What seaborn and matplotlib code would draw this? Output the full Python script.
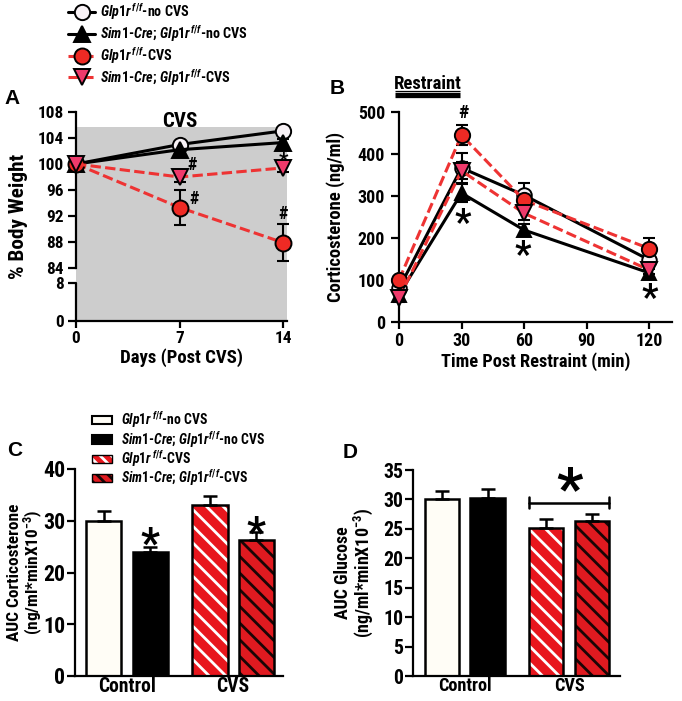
import numpy as np
import pandas as pd
import seaborn as sns
import matplotlib
matplotlib.use("Agg")
import matplotlib.pyplot as plt
from matplotlib import font_manager
from matplotlib.patches import Patch, Rectangle
from matplotlib.lines import Line2D
from matplotlib.legend_handler import HandlerTuple
from matplotlib.transforms import ScaledTranslation

# ---------------- data ----------------
days = [0, 7, 14]
bw_flox_ctrl = [100.0, 103.0, 105.1]
bw_flox_ctrl_err = [0.3, 0.5, 0.5]
bw_sim1_ctrl = [100.0, 102.2, 103.3]
bw_sim1_ctrl_err = [0.3, 0.5, 0.6]
bw_flox_cvs = [100.0, 93.3, 87.9]
bw_flox_cvs_err = [0.3, 2.7, 2.8]
bw_sim1_cvs = [100.0, 98.0, 99.4]
bw_sim1_cvs_err = [0.3, 0.8, 0.6]

times = [0, 30, 60, 120]
cort_flox_ctrl = [80, 367, 302, 148]
cort_flox_ctrl_err = [12, 35, 30, 10]
cort_sim1_ctrl = [65, 307, 219, 117]
cort_sim1_ctrl_err = [10, 22, 15, 10]
cort_flox_cvs = [100, 445, 290, 175]
cort_flox_cvs_err = [10, 24, 20, 25]
cort_sim1_cvs = [57, 360, 259, 124]
cort_sim1_cvs_err = [10, 20, 15, 10]

groups = ["Control", "Control", "CVS", "CVS"]
genos = ["flox", "sim1", "flox", "sim1"]
auc_cort = [30.0, 24.0, 33.1, 26.2]
auc_cort_err = [1.8, 1.0, 1.7, 1.6]
auc_glu = [30.0, 30.3, 25.2, 26.4]
auc_glu_err = [1.5, 1.4, 1.4, 1.1]

# ---------------- font choice ----------------
entries = font_manager.fontManager.ttflist


def pick_font():
    for nm in ["Liberation Sans Narrow", "Arial Narrow", "Roboto Condensed",
               "Open Sans Condensed", "Noto Sans Condensed"]:
        if any(e.name == nm for e in entries):
            return nm, "normal"
    for nm in ["Roboto", "Noto Sans", "Open Sans", "DejaVu Sans"]:
        if any(e.name == nm and str(e.stretch) in ("condensed", "semi-condensed", "extra-condensed")
               for e in entries):
            return nm, "condensed"
    return "Liberation Sans", "normal"


FAM, STRETCH = pick_font()
SFX = ":stretch=condensed" if STRETCH == "condensed" else ""

sns.set_theme(style="ticks")
plt.rcParams.update({
    "font.family": [FAM, "DejaVu Sans"],
    "font.stretch": STRETCH,
    "font.weight": "bold",
    "axes.labelweight": "bold",
    "mathtext.fontset": "custom",
    "mathtext.rm": f"{FAM}:bold{SFX}",
    "mathtext.it": f"{FAM}:italic:bold{SFX}",
    "mathtext.bf": f"{FAM}:bold{SFX}",
    "hatch.linewidth": 2.0,
    "axes.linewidth": 1.6,
    "xtick.major.width": 1.6,
    "ytick.major.width": 1.6,
    "xtick.major.size": 5,
    "ytick.major.size": 6,
    "xtick.major.pad": 2,
    "ytick.major.pad": 2,
    "axes.edgecolor": "black",
    "xtick.color": "black",
    "ytick.color": "black",
    "text.color": "black",
    "axes.labelcolor": "black",
})

RED = "#ee2a24"
PINK = "#ef3a6b"
DASH_RED = "#ee3333"
W, H = 682, 701
fig = plt.figure(figsize=(W / 100, H / 100), dpi=100)
renderer = fig.canvas.get_renderer()


def text_bb(s, fs, **kw):
    t = fig.text(0, 0, s, fontsize=fs, **kw)
    bb = t.get_window_extent(renderer)
    t.remove()
    return bb


def fit_fs(s, target, **kw):
    return 12.0 * target / text_bb(s, 12.0, **kw).width


def axrect(l, r, t, b):
    return [l / W, 1 - b / H, (r - l) / W, (b - t) / H]


L_FLOX_CTRL = r"$\mathit{Glp1r}^{\,\mathit{f/f}}$-no CVS"
L_SIM1_CTRL = r"$\mathit{Sim1}$-$\mathit{Cre;\,Glp1r}^{\mathit{f/f}}$-no CVS"
L_FLOX_CVS = r"$\mathit{Glp1r}^{\,\mathit{f/f}}$-CVS"
L_SIM1_CVS = r"$\mathit{Sim1}$-$\mathit{Cre;\,Glp1r}^{\mathit{f/f}}$-CVS"
LABELS = [L_FLOX_CTRL, L_SIM1_CTRL, L_FLOX_CVS, L_SIM1_CVS]

DASH = (0, (3.4, 1.4))
series_style = [
    dict(color="black", ls="-", marker="o", mfc="#f8f2f6", ms=11),
    dict(color="black", ls="-", marker="^", mfc="black", ms=11),
    dict(color=DASH_RED, ls=DASH, marker="o", mfc=RED, ms=11.5),
    dict(color=DASH_RED, ls=DASH, marker="v", mfc=PINK, ms=11.5),
]


def star(ax, x, y, fs):
    # place an asterisk so that its glyph centre sits at (x, y)
    off = ScaledTranslation(0, -0.52 * fs / 72, fig.dpi_scale_trans)
    ax.text(x, y, "*", ha="center", va="baseline", fontsize=fs,
            transform=ax.transData + off, clip_on=False)


def legend_fs(width_target, pitch_px):
    fs = fit_fs(L_SIM1_CTRL, width_target)
    hmax = max(text_bb(s, fs).height for s in LABELS)
    if hmax > pitch_px - 0.6:
        fs *= (pitch_px - 0.6) / hmax
    return fs


def place_legend(handles, fs, left_px, first_cy_px, pitch_px, **kw):
    ls = 0.3
    anchor = [left_px / W - 0.04, 1 - (first_cy_px - 8) / H]
    leg = None
    for it in range(3):
        if leg is not None:
            leg.remove()
        leg = fig.legend(handles, LABELS, loc="upper left", bbox_to_anchor=tuple(anchor),
                         fontsize=fs, labelspacing=ls, frameon=False, borderaxespad=0,
                         borderpad=0, **kw)
        fig.canvas.draw()
        bbs = [t.get_window_extent(renderer) for t in leg.get_texts()]
        cys = [H - (b.y0 + b.y1) / 2 for b in bbs]
        pitch = (cys[-1] - cys[0]) / (len(cys) - 1)
        ls += (pitch_px - pitch) / (fs * 100 / 72)
        anchor[0] += (left_px - bbs[0].x0) / W
        anchor[1] -= (first_cy_px - cys[0]) / H
    return leg


# ---------------- Panel A ----------------
axA = fig.add_axes(axrect(76, 287, 112, 321))


def fwd(y):
    y = np.asarray(y, float)
    return np.where(y <= 8, y * 4.75,
                    np.where(y >= 84, 53 + (y - 84) * 6.5, 38 + (y - 8) * (15 / 76)))


def inv(t):
    t = np.asarray(t, float)
    return np.where(t <= 38, t / 4.75,
                    np.where(t >= 53, 84 + (t - 53) / 6.5, 8 + (t - 38) * (76 / 15)))


axA.set_yscale("function", functions=(fwd, inv))
axA.set_xlim(0, 14.25)
axA.set_ylim(0, 108)
axA.fill_between([0, 14.25], [0, 0], [105.7, 105.7], color="#cdcdcd", lw=0, zorder=0)

A_series = [(bw_flox_ctrl, bw_flox_ctrl_err), (bw_sim1_ctrl, bw_sim1_ctrl_err),
            (bw_flox_cvs, bw_flox_cvs_err), (bw_sim1_cvs, bw_sim1_cvs_err)]
handlesA = []
for (vals, err), st in zip(A_series, series_style):
    axA.errorbar(days, vals, yerr=err, fmt="none", ecolor="black", elinewidth=1.5,
                 capsize=4, capthick=1.5, zorder=2, clip_on=False)
    sns.lineplot(x=days, y=vals, ax=axA, color=st["color"], linestyle=st["ls"], lw=2.2,
                 marker=st["marker"], markersize=st["ms"], markerfacecolor=st["mfc"],
                 markeredgecolor="black", markeredgewidth=1.4, errorbar=None,
                 clip_on=False, zorder=3, legend=False)
    handlesA.append(Line2D([], [], color=st["color"], linestyle=st["ls"], lw=2.2,
                           marker=st["marker"], markersize=st["ms"], markerfacecolor=st["mfc"],
                           markeredgecolor="black", markeredgewidth=1.4))

axA.set_yticks([0, 8, 84, 88, 92, 96, 100, 104, 108])
axA.set_xticks(days)
axA.tick_params(labelsize=fit_fs("108", 26))
axA.tick_params(axis="y", length=6, pad=3)
axA.spines["top"].set_visible(False)
axA.spines["right"].set_visible(False)
axA.spines["left"].set_bounds(84, 108)
axA.plot([0, 0], [0, 8.6], color="black", lw=1.6, clip_on=False, zorder=1)
axA.set_xlabel("Days (Post CVS)", fontsize=fit_fs("Days (Post CVS)", 123), va="top")
axA.xaxis.set_label_coords(0.5, -(348 - 321) / 209)
axA.set_ylabel("% Body Weight", fontsize=fit_fs("% Body Weight", 125))
axA.yaxis.set_label_coords(-(76 - 28) / 211, 0.5)
axA.text(7, 106.6, "CVS", ha="center", va="center", fontsize=fit_fs("CVS", 35))
axA.text(7.85, 99.8, "#", ha="center", va="center", fontsize=13)
axA.text(7.95, 94.6, "#", ha="center", va="center", fontsize=13)
axA.text(14.0, 92.3, "#", ha="center", va="center", fontsize=13)
star(axA, 14.0, 101.4, 15)

fsLegA = legend_fs(173, 21.7)
place_legend(handlesA, fsLegA, 100, 12, 21.7,
             handlelength=27 / (fsLegA * 100 / 72), handletextpad=5 / (fsLegA * 100 / 72))

# ---------------- Panel B ----------------
axB = fig.add_axes(axrect(399, 672, 112, 322))
axB.set_xlim(0, 131)
axB.set_ylim(0, 500)
B_series = [(cort_flox_ctrl, cort_flox_ctrl_err), (cort_sim1_ctrl, cort_sim1_ctrl_err),
            (cort_flox_cvs, cort_flox_cvs_err), (cort_sim1_cvs, cort_sim1_cvs_err)]
for (vals, err), st in zip(B_series, series_style):
    axB.errorbar(times, vals, yerr=err, fmt="none", ecolor="black", elinewidth=1.5,
                 capsize=4, capthick=1.5, zorder=2, clip_on=False)
    sns.lineplot(x=times, y=vals, ax=axB, color=st["color"], linestyle=st["ls"], lw=2.2,
                 marker=st["marker"], markersize=st["ms"] - 0.5, markerfacecolor=st["mfc"],
                 markeredgecolor="black", markeredgewidth=1.4, errorbar=None,
                 clip_on=False, zorder=3, legend=False)
axB.set_xticks([0, 30, 60, 90, 120])
axB.set_yticks([0, 100, 200, 300, 400, 500])
axB.tick_params(labelsize=fit_fs("500", 27))
axB.tick_params(axis="y", length=6, pad=4)
axB.spines["top"].set_visible(False)
axB.spines["right"].set_visible(False)
axB.set_xlabel("Time Post Restraint (min)", fontsize=fit_fs("Time Post Restraint (min)", 190),
               va="top")
axB.xaxis.set_label_coords(0.5, -(352 - 322) / 210)
axB.set_ylabel("Corticosterone (ng/ml)", fontsize=fit_fs("Corticosterone (ng/ml)", 171))
axB.yaxis.set_label_coords(-(399 - 345) / 273, 0.5)
axB.plot([-2, 29.5], [540, 540], color="black", lw=3.8, solid_capstyle="butt", clip_on=False)
axB.plot([-2, 29.5], [550, 550], color="black", lw=0.9, solid_capstyle="butt", clip_on=False)
axB.text(14.0, 554, "Restraint", ha="center", va="baseline",
         fontsize=fit_fs("Restraint", 68))
axB.text(30.7, 497, "#", ha="center", va="center", fontsize=14)
for xx, yy in [(30.7, 255), (59.5, 178), (120.4, 76)]:
    star(axB, xx, yy, 26)

# ---------------- Panels C & D (bars) ----------------
LOOKS = [
    dict(fc="#fffdf6", hc=None),
    dict(fc="black", hc=None),
    dict(fc="#e8161d", hc="white"),
    dict(fc="#e01a20", hc="#1a0505"),
]


def bar_panel(rect, vals, errs, ylim, yticks, width, gap, xlim, tick_fs, cat_fs):
    ax = fig.add_axes(rect)
    df = pd.DataFrame({"group": groups, "geno": genos, "value": vals})
    sns.barplot(data=df, x="group", y="value", hue="geno", order=["Control", "CVS"],
                hue_order=["flox", "sim1"], palette=["white", "black"], width=width,
                gap=gap, errorbar=None, legend=False, ax=ax, saturation=1)
    bars = sorted(ax.patches, key=lambda p: p.get_x())
    centers = []
    for p, lk in zip(bars, LOOKS):
        x0, w, h = p.get_x(), p.get_width(), p.get_height()
        centers.append(x0 + w / 2)
        p.set_facecolor(lk["fc"])
        if lk["hc"] is None:
            p.set_edgecolor("black")
            p.set_linewidth(1.8)
        else:
            p.set_edgecolor(lk["hc"])
            p.set_hatch("\\\\")
            p.set_linewidth(0)
            ax.add_patch(Rectangle((x0, 0), w, h, fill=False, ec="black", lw=1.8,
                                   zorder=p.get_zorder() + 0.1))
    ax.errorbar(centers, vals, yerr=[np.zeros(len(vals)), errs], fmt="none", ecolor="black",
                elinewidth=1.8, capsize=5, capthick=1.8, zorder=1)
    ax.set_xlim(*xlim)
    ax.set_ylim(*ylim)
    ax.set_yticks(yticks)
    ax.tick_params(axis="y", labelsize=tick_fs, length=6, pad=1)
    ax.tick_params(axis="x", length=0, labelsize=cat_fs, pad=1)
    ax.set_xlabel("")
    ax.spines["top"].set_visible(False)
    ax.spines["right"].set_visible(False)
    return ax, bars, centers


axC, barsC, centC = bar_panel(axrect(75, 283, 469, 676), auc_cort, auc_cort_err, (0, 40),
                              [0, 10, 20, 30, 40], 0.87, 0.24, (-0.49, 1.47),
                              fit_fs("40", 22), fit_fs("Control", 58))
fsCy = fit_fs("AUC Corticosterone", 137)
axC.set_ylabel("AUC Corticosterone\n(ng/ml*minX10$^{-3}$)", fontsize=fsCy, linespacing=1.0)
axC.yaxis.set_label_coords(-(75 - 45) / 208, 0.5)
star(axC, centC[1], 27.2, 30)
star(axC, centC[3], 29.4, 30)

hC = []
for lk in LOOKS:
    if lk["hc"] is None:
        hC.append(Patch(facecolor=lk["fc"], edgecolor="black", lw=1.5))
    else:
        hC.append((Patch(facecolor=lk["fc"], edgecolor=lk["hc"], hatch="\\\\\\", lw=0),
                   Patch(fill=False, edgecolor="black", lw=1.0)))
fsLegC = legend_fs(166, 19.3)
place_legend(hC, fsLegC, 121, 420, 19.3,
             handler_map={tuple: HandlerTuple(ndivide=1, pad=0)},
             handlelength=20 / (fsLegC * 100 / 72), handleheight=0.55,
             handletextpad=9 / (fsLegC * 100 / 72))

axD, barsD, centD = bar_panel(axrect(413, 620, 470, 676), auc_glu, auc_glu_err, (0, 35),
                              [0, 5, 10, 15, 20, 25, 30, 35], 0.88, 0.26, (-0.493, 1.488),
                              fit_fs("35", 20), fit_fs("Control", 54))
fsDy = fit_fs("(ng/ml*minX10$^{-3}$)", 130)
axD.set_ylabel("AUC Glucose\n(ng/ml*minX10$^{-3}$)", fontsize=fsDy, linespacing=1.0)
axD.yaxis.set_label_coords(-(413 - 375) / 207, 0.5)
xl = barsD[2].get_x()
xr = barsD[3].get_x() + barsD[3].get_width()
axD.plot([xl, xr], [29.4, 29.4], color="black", lw=1.8)
axD.plot([xl, xl], [28.5, 30.4], color="black", lw=1.8)
axD.plot([xr, xr], [28.5, 30.4], color="black", lw=1.8)
star(axD, (xl + xr) / 2, 33.8, 42)

# panel letters
for s, (px, py) in {"A": (12, 99), "B": (337, 88), "C": (15, 450), "D": (350, 453)}.items():
    fig.text(px / W, 1 - py / H, s, ha="center", va="center", fontsize=15,
             fontweight="bold", family=["Liberation Sans", "DejaVu Sans"], stretch="normal")

fig.savefig("out.png", dpi=100)
